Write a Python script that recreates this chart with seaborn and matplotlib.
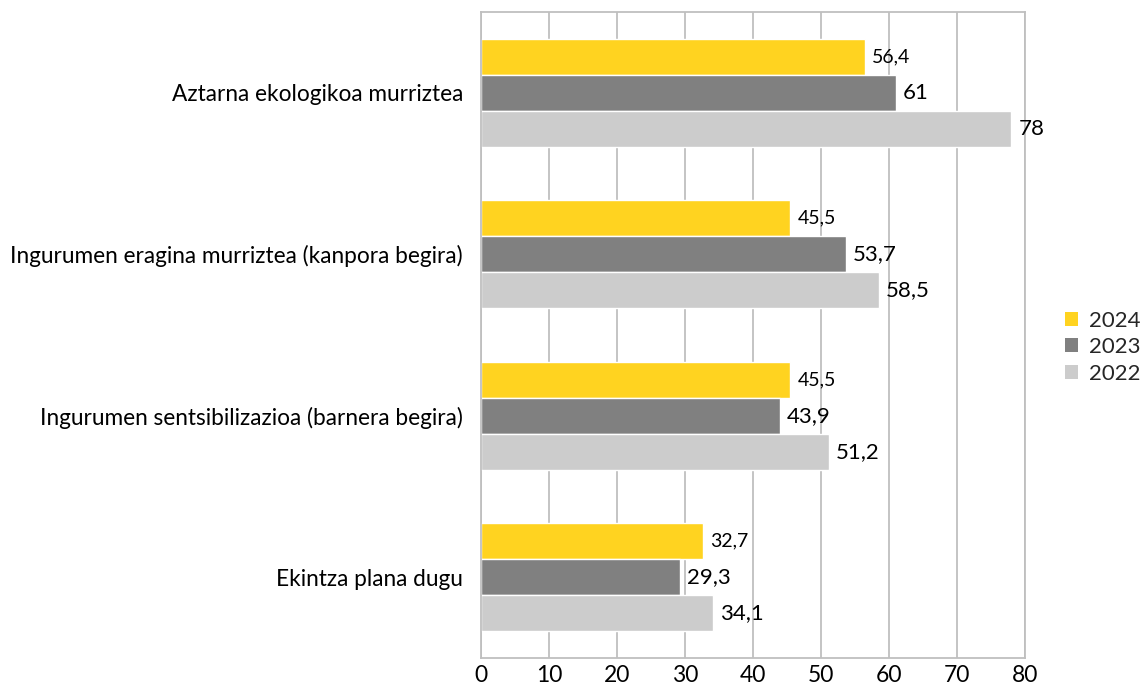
import matplotlib
matplotlib.use("Agg")
import matplotlib.pyplot as plt
import seaborn as sns
import pandas as pd
from matplotlib.patches import Patch

categories = ["Aztarna ekologikoa murriztea",
              "Ingurumen eragina murriztea (kanpora begira)",
              "Ingurumen sentsibilizazioa (barnera begira)",
              "Ekintza plana dugu"]
years = ["2024", "2023", "2022"]
v2024 = [56.4, 45.5, 45.5, 32.7]
v2023 = [61, 53.7, 43.9, 29.3]
v2022 = [78, 58.5, 51.2, 34.1]
xticks = [0, 10, 20, 30, 40, 50, 60, 70, 80]

colors = {"2024": "#FFD320", "2023": "#808080", "2022": "#CCCCCC"}

rows = []
for y, vals in zip(years, [v2024, v2023, v2022]):
    for c, v in zip(categories, vals):
        rows.append({"cat": c, "year": y, "val": v})
df = pd.DataFrame(rows)

sns.set_theme(style="white")
plt.rcParams['font.family'] = ['Lato', 'DejaVu Sans']

fig = plt.figure(figsize=(11.48, 6.89), dpi=100)
ax = fig.add_axes([0.419, 0.045, 0.4739, 0.9376])

sns.barplot(data=df, y="cat", x="val", hue="year", order=categories,
            hue_order=years, palette=colors, orient="h", width=0.67,
            saturation=1, legend=False, ax=ax)

ax.set_xlim(0, 80)
ax.set_ylim(3.5, -0.5)
ax.set_xticks(xticks)
ax.set_xticklabels([str(t) for t in xticks], fontsize=16.5)
ax.set_xlabel("")
ax.set_ylabel("")
ax.tick_params(axis="y", labelsize=16.3, length=0, pad=13, labelcolor="#000000")
ax.tick_params(axis="x", length=0, pad=5, labelcolor="#000000")
ax.grid(axis="x", color="#BFBFBF", linewidth=1.3)
ax.set_axisbelow(True)
for s in ax.spines.values():
    s.set_color("#BFBFBF")
    s.set_linewidth(1.3)

for i, cont in enumerate(ax.containers):
    fs = 14 if i == 0 else 16
    labels = [f"{v:g}".replace(".", ",") for v in cont.datavalues]
    ax.bar_label(cont, labels=labels, padding=5, fontsize=fs, color="#000000")

handles = [Patch(facecolor=colors[y], edgecolor="none", label=y) for y in years]
fig.legend(handles=handles, loc="center right", bbox_to_anchor=(1.011, 0.496),
           frameon=False, fontsize=16, handlelength=0.6, handleheight=0.6,
           handletextpad=0.5, labelspacing=0.3, borderpad=0.4)

fig.savefig("out.png", dpi=100)
